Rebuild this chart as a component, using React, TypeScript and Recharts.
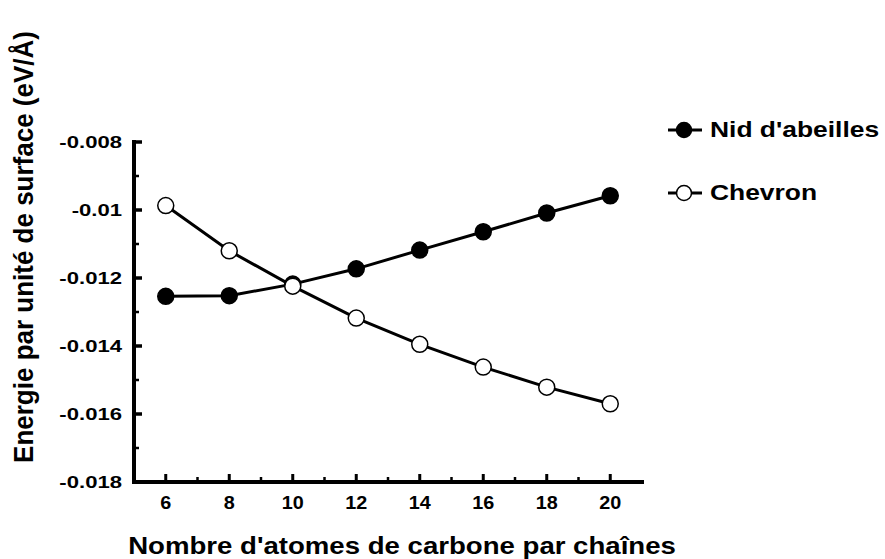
import { LineChart, Line, XAxis, YAxis, Legend } from 'recharts';

const carbonAtoms = [6, 8, 10, 12, 14, 16, 18, 20];
const nidAbeilles = [-0.01254, -0.01252, -0.01218, -0.01173, -0.01118, -0.01064, -0.01009, -0.00958];
const chevron = [-0.00987, -0.0112, -0.01224, -0.01318, -0.01395, -0.01462, -0.01521, -0.0157];
const xTicks = [6, 7, 8, 9, 10, 11, 12, 13, 14, 15, 16, 17, 18, 19, 20];
const yTicks = [-0.018, -0.017, -0.016, -0.015, -0.014, -0.013, -0.012, -0.011, -0.01, -0.009, -0.008];
const seriesNames = ["Nid d'abeilles", 'Chevron'];
const seriesFills = ['#000', '#fff'];

const data = carbonAtoms.map((n, i) => ({ n, nid: nidAbeilles[i], chevron: chevron[i] }));

const FONT = '"Liberation Sans", Arial, sans-serif';

function YTick({ x, y, payload }: any) {
  const major = Math.round(payload.value * 1000) % 2 === 0;
  return (
    <g>
      <line x1={x} x2={x + (major ? 8 : 5)} y1={y} y2={y} stroke="#000" strokeWidth={major ? 3.5 : 2.5} />
      {major && (
        <text
          transform={`translate(${x - 12},${y + 6}) scale(1.3,1)`}
          textAnchor="end"
          fontSize={17}
          fontWeight="bold"
          fontFamily={FONT}
          fill="#000"
        >
          {payload.value}
        </text>
      )}
    </g>
  );
}

function XTick({ x, y, payload }: any) {
  const major = payload.value % 2 === 0;
  return (
    <g>
      <line x1={x} x2={x} y1={y} y2={y - (major ? 8 : 5)} stroke="#000" strokeWidth={major ? 3 : 2.5} />
      {major && (
        <text
          transform={`translate(${x},${y + 27}) scale(1.1,1)`}
          textAnchor="middle"
          fontSize={18}
          fontWeight="bold"
          fontFamily={FONT}
          fill="#000"
        >
          {payload.value}
        </text>
      )}
    </g>
  );
}

const XTitle = () => (
  <text
    transform="translate(402,554) scale(1.2,1)"
    textAnchor="middle"
    fontSize={23}
    fontWeight="bold"
    fontFamily={FONT}
    fill="#000"
  >
    Nombre d'atomes de carbone par chaînes
  </text>
);

const YTitle = () => (
  <text
    transform="translate(33,247) scale(1.08,1) rotate(-90)"
    textAnchor="middle"
    fontSize={26}
    fontWeight="bold"
    fontFamily={FONT}
    fill="#000"
  >
    Energie par unité de surface (eV/Å)
  </text>
);

function LegendContent() {
  return (
    <div style={{ fontFamily: FONT }}>
      {seriesNames.map((name, i) => (
        <div key={name} style={{ display: 'flex', alignItems: 'center', height: 63, whiteSpace: 'nowrap' }}>
          <svg width={36} height={20}>
            <line x1={1} x2={35} y1={10} y2={10} stroke="#000" strokeWidth={3} />
            <circle cx={17} cy={10} r={7.5} fill={seriesFills[i]} stroke="#000" strokeWidth={1.5} />
          </svg>
          <span
            style={{
              marginLeft: 7,
              fontSize: 22,
              fontWeight: 'bold',
              display: 'inline-block',
              transform: 'scaleX(1.2)',
              transformOrigin: 'left center',
            }}
          >
            {name}
          </span>
        </div>
      ))}
    </div>
  );
}

export default function App() {
  return (
    <div style={{ position: 'absolute', left: 0, top: 0, background: '#fff' }}>
      <LineChart width={885} height={559} data={data} margin={{ top: 142, right: 243, left: 0, bottom: 0 }}>
        <XAxis
          dataKey="n"
          type="number"
          domain={[5, 21]}
          ticks={xTicks}
          interval={0}
          height={77}
          tickSize={0}
          tickMargin={0}
          tick={<XTick />}
          axisLine={{ stroke: '#000', strokeWidth: 4, strokeLinecap: 'square' }}
          tickLine={false}
          label={XTitle}
        />
        <YAxis
          type="number"
          domain={[-0.018, -0.008]}
          ticks={yTicks}
          interval={0}
          width={134}
          tickSize={0}
          tickMargin={0}
          tick={<YTick />}
          axisLine={{ stroke: '#000', strokeWidth: 4, strokeLinecap: 'square' }}
          tickLine={false}
          label={YTitle}
        />
        <Legend
          layout="vertical"
          align="center"
          verticalAlign="middle"
          content={LegendContent}
          wrapperStyle={{ position: 'absolute', left: 667, top: 98, width: 218, height: 130 }}
        />
        <Line
          name={seriesNames[0]}
          dataKey="nid"
          stroke="#000"
          strokeWidth={3}
          dot={{ r: 8, fill: seriesFills[0], stroke: '#000', strokeWidth: 1.5 }}
          activeDot={false}
          isAnimationActive={false}
        />
        <Line
          name={seriesNames[1]}
          dataKey="chevron"
          stroke="#000"
          strokeWidth={3}
          dot={{ r: 8, fill: seriesFills[1], stroke: '#000', strokeWidth: 1.5 }}
          activeDot={false}
          isAnimationActive={false}
        />
      </LineChart>
    </div>
  );
}
